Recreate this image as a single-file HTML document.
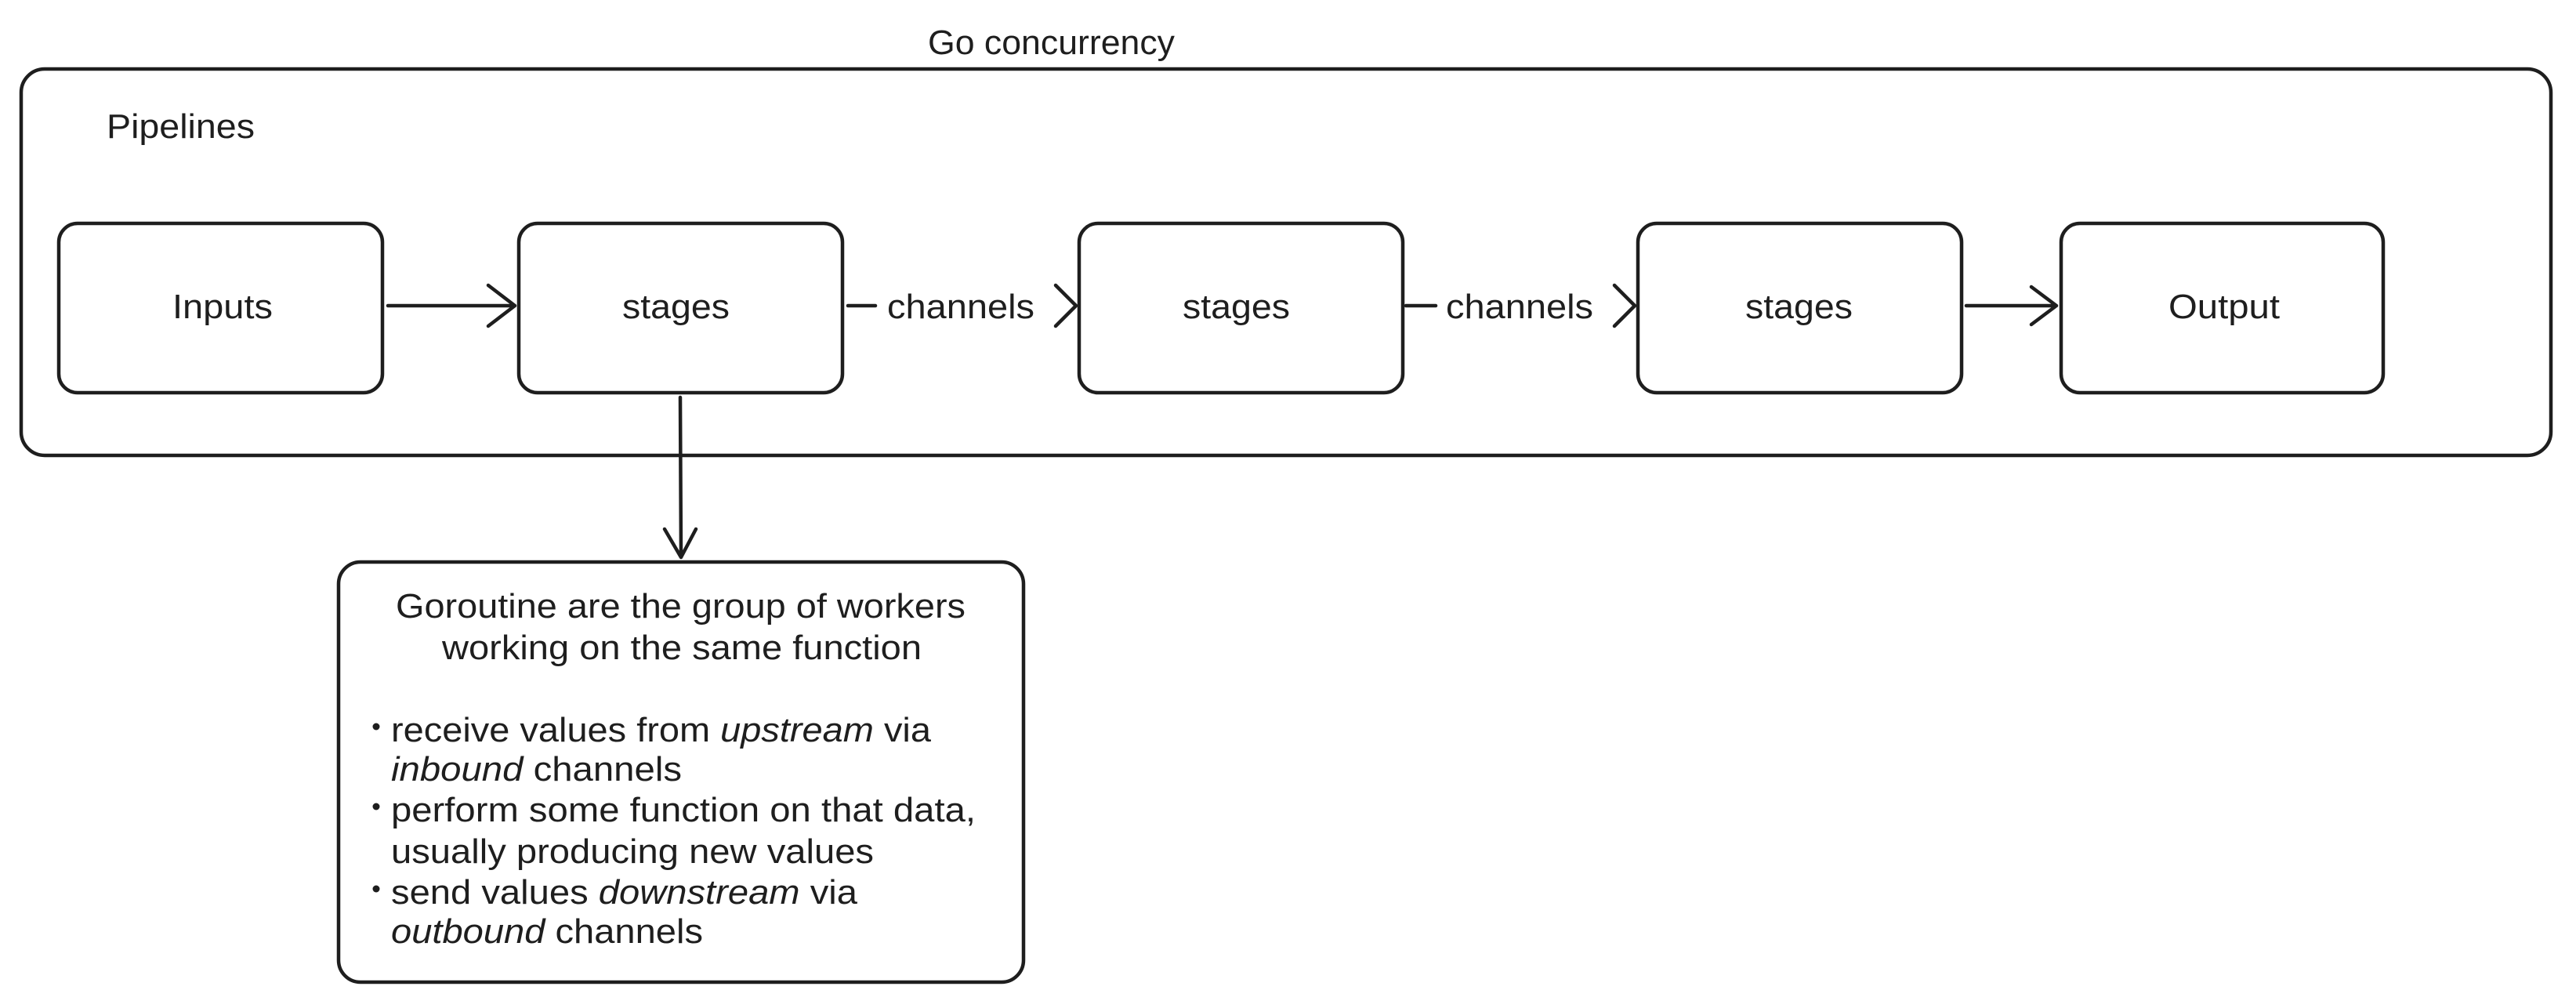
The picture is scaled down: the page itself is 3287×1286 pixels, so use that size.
<!DOCTYPE html>
<html><head><meta charset="utf-8"><style>
html,body{margin:0;padding:0;background:#fff;}
svg{display:block;}
text{font-family:"Liberation Sans",sans-serif;font-size:44px;fill:#1e1e1e;}
</style></head><body>
<svg width="3287" height="1286" viewBox="0 0 3287 1286" xmlns="http://www.w3.org/2000/svg">
<g fill="none" stroke="#1e1e1e" stroke-width="4.5" stroke-linecap="round" stroke-linejoin="round">
<rect x="27" y="88" width="3228" height="493" rx="30"/>
<rect x="75" y="285" width="413" height="216" rx="24"/>
<rect x="662" y="285" width="413" height="216" rx="24"/>
<rect x="1377" y="285" width="413" height="216" rx="24"/>
<rect x="2090" y="285" width="413" height="216" rx="24"/>
<rect x="2630" y="285" width="411" height="216" rx="24"/>
<rect x="432" y="717" width="874" height="536" rx="28"/>
<path d="M495 390 L657 390 M623 364 L657 390 L623 416"/>
<path d="M1082 390 L1117 390"/>
<path d="M1347 364 L1373 390 L1347 416"/>
<path d="M1794 390 L1832 390"/>
<path d="M2060 364 L2086 390 L2060 416"/>
<path d="M2509 390 L2624 390 M2592 366 L2624 390 L2592 414"/>
<path d="M868 507 L869 711 M848 675 L869 711 L888 675"/>
</g>
<text x="1184" y="69" textLength="315" lengthAdjust="spacingAndGlyphs">Go concurrency</text>
<text x="136" y="176" textLength="189" lengthAdjust="spacingAndGlyphs">Pipelines</text>
<text x="220" y="406" textLength="128" lengthAdjust="spacingAndGlyphs">Inputs</text>
<text x="794" y="406" textLength="137" lengthAdjust="spacingAndGlyphs">stages</text>
<text x="1509" y="406" textLength="137" lengthAdjust="spacingAndGlyphs">stages</text>
<text x="2227" y="406" textLength="137" lengthAdjust="spacingAndGlyphs">stages</text>
<text x="2767" y="406" textLength="142" lengthAdjust="spacingAndGlyphs">Output</text>
<text x="1132" y="406" textLength="188" lengthAdjust="spacingAndGlyphs">channels</text>
<text x="1845" y="406" textLength="188" lengthAdjust="spacingAndGlyphs">channels</text>
<text x="505" y="788" textLength="727" lengthAdjust="spacingAndGlyphs">Goroutine are the group of workers</text>
<text x="564" y="841" textLength="612" lengthAdjust="spacingAndGlyphs">working on the same function</text>
<circle cx="480" cy="927" r="4.5" fill="#1e1e1e"/>
<circle cx="480" cy="1029" r="4.5" fill="#1e1e1e"/>
<circle cx="480" cy="1134" r="4.5" fill="#1e1e1e"/>
<text x="499" y="946" textLength="689" lengthAdjust="spacingAndGlyphs">receive values from <tspan font-style="italic">upstream</tspan> via</text>
<text x="499" y="996" textLength="371" lengthAdjust="spacingAndGlyphs"><tspan font-style="italic">inbound</tspan> channels</text>
<text x="499" y="1048" textLength="746" lengthAdjust="spacingAndGlyphs">perform some function on that data,</text>
<text x="499" y="1101" textLength="616" lengthAdjust="spacingAndGlyphs">usually producing new values</text>
<text x="499" y="1153" textLength="595" lengthAdjust="spacingAndGlyphs">send values <tspan font-style="italic">downstream</tspan> via</text>
<text x="499" y="1203" textLength="398" lengthAdjust="spacingAndGlyphs"><tspan font-style="italic">outbound</tspan> channels</text>
</svg>
</body></html>
